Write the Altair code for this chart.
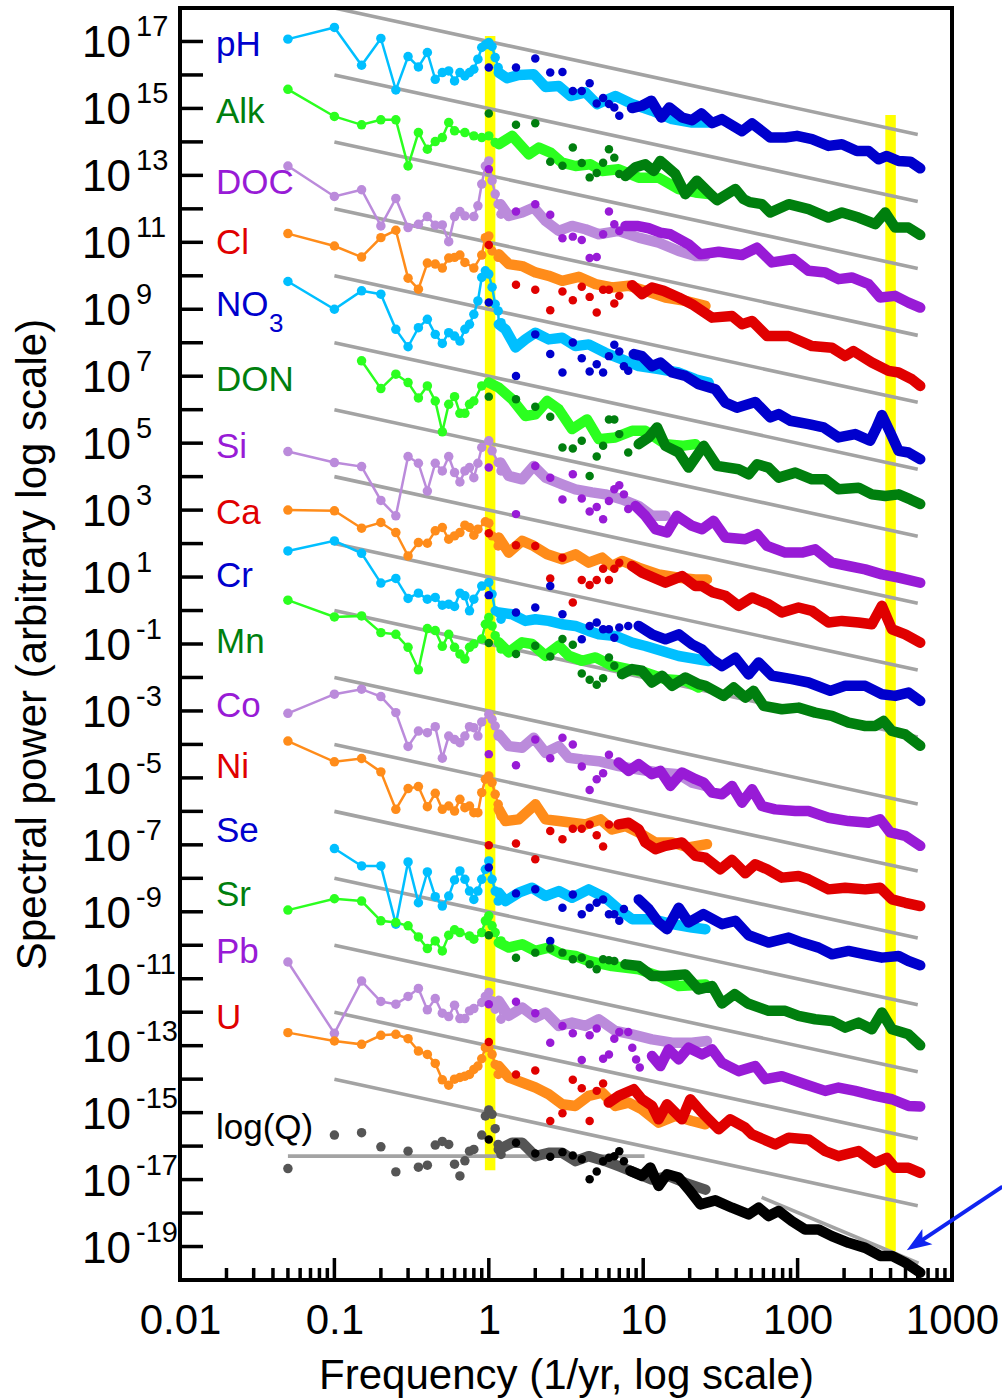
import altair as alt
import pandas as pd

FONT = "Liberation Sans"

NAMES = ["pH", "Alk", "DOC", "Cl", "NO3", "DON", "Si", "Ca", "Cr", "Mn", "Co", "Ni", "Se", "Sr", "Pb", "U"]
LIGHT_CYCLE = ["#00bfff", "#2bff1f", "#bb8bdb", "#ff8c1a"]
DARK_CYCLE = ["#0000cd", "#007f0e", "#981bd6", "#e00000"]
Q_LIGHT = "#555555"
Q_DARK = "#000000"

# frequency grids (1/yr)
LOW_F = [0.05, 0.1, 0.15, 0.2, 0.25, 0.3, 0.35, 0.4, 0.45, 0.5, 0.55, 0.6, 0.65, 0.7, 0.75, 0.8,
         0.85, 0.9, 0.95, 1.0, 1.05, 1.1, 1.15, 1.2]
DARK_F = [1.0, 1.5, 2.0, 2.5, 3.0, 3.5, 4.0, 4.5, 5.0, 5.5, 6.0, 6.5, 7.0, 7.5, 8.0, 8.5, 9.0, 9.5]

# values are log10(spectral power); bands/lines are (log10 f, log10 power)
pH_dots = [17.07, 17.42, 16.29, 17.09, 15.55, 16.55, 16.24, 16.67, 15.87, 16.07, 16.12, 15.82, 16.07, 15.97, 16.07, 16.17, 16.47, 16.82, 16.9, 16.97, 16.85, 16.52, 16.22]
pH_band = [(0.065, 16.07), (0.118, 15.9), (0.194, 16.0), (0.291, 16.02), (0.367, 15.64), (0.453, 15.67), (0.529, 15.37), (0.626, 15.48), (0.701, 15.13), (0.82, 15.37), (0.928, 15.13), (1.057, 14.93), (1.187, 14.68), (1.316, 14.58), (1.424, 14.58)]
pH_ddots = [16.22, 16.22, 16.49, 16.07, 16.09, 15.52, 15.52, 15.75, 15.15, 15.31, 15.13, 15.03, 14.78]
pH_dark = [(0.928, 15.01), (0.992, 15.08), (1.053, 15.23), (1.118, 14.73), (1.169, 15.03), (1.251, 14.73), (1.316, 14.65), (1.377, 14.85), (1.446, 14.56), (1.51, 14.68), (1.64, 14.32), (1.705, 14.55), (1.823, 14.13), (1.92, 14.13), (1.996, 14.18), (2.093, 14.08), (2.2, 13.88), (2.287, 13.93), (2.384, 13.73), (2.46, 13.73), (2.524, 13.48), (2.578, 13.58), (2.654, 13.43), (2.73, 13.41), (2.794, 13.21)]

Alk_dots = [15.57, 14.76, 14.51, 14.66, 14.66, 13.28, 14.28, 13.78, 14.01, 14.13, 14.58, 14.33, None, 14.28, None, 14.18, None, 14.13, None, 14.18, None, 13.98]
Alk_band = [(0.065, 13.93), (0.151, 14.18), (0.259, 13.63), (0.324, 13.83), (0.399, 13.68), (0.475, 13.38), (0.561, 13.28), (0.658, 13.33), (0.734, 13.13), (0.841, 13.18), (0.971, 12.93), (1.1, 12.93), (1.23, 12.59), (1.338, 12.49), (1.424, 12.44)]
Alk_ddots = [14.85, 14.51, 14.56, 13.41, 13.29, 13.83, 13.37, 12.94, 13.07, 13.38, 13.78, 13.53, 13.04]
Alk_dark = [(0.885, 12.98), (0.95, 13.24), (1.014, 13.33), (1.068, 13.13), (1.111, 13.43), (1.208, 13.04), (1.273, 12.44), (1.348, 12.84), (1.446, 12.39), (1.478, 12.26), (1.597, 12.59), (1.65, 12.29), (1.69, 12.2), (1.769, 12.14), (1.823, 11.89), (1.942, 12.14), (2.071, 11.99), (2.2, 11.74), (2.287, 11.89), (2.395, 11.74), (2.503, 11.54), (2.567, 11.89), (2.632, 11.44), (2.718, 11.44), (2.794, 11.22)]

DOC_dots = [13.28, 12.37, 12.57, 11.49, 12.31, 11.44, 11.54, 11.77, 11.51, 11.52, 11.02, 11.77, 11.92, 11.79, None, 11.77, 12.09, 12.74, 13.28, 13.43, 12.84, 12.44, 12.14, 11.84]
DOC_band = [(0.076, 12.14), (0.129, 11.79), (0.216, 11.89), (0.291, 12.04), (0.367, 11.64), (0.453, 11.34), (0.539, 11.49), (0.626, 11.39), (0.712, 11.24), (0.841, 11.34), (0.971, 11.14), (1.1, 10.99), (1.23, 10.74), (1.338, 10.59), (1.403, 10.59)]
DOC_ddots = [13.18, 11.92, 12.14, 11.82, 11.12, 11.17, 11.07, 10.53, 10.56, 11.24, 11.92, 11.54, 11.34]
DOC_dark = [(0.885, 11.49), (0.96, 11.49), (1.036, 11.42), (1.111, 11.29), (1.176, 11.24), (1.294, 10.94), (1.37, 10.64), (1.489, 10.72), (1.64, 10.62), (1.737, 10.84), (1.834, 10.4), (1.974, 10.5), (2.071, 10.15), (2.179, 10.1), (2.265, 9.9), (2.351, 9.95), (2.46, 9.75), (2.535, 9.35), (2.632, 9.4), (2.718, 9.2), (2.794, 9.05)]

Cl_dots = [11.26, 10.89, 10.56, 11.14, 11.36, 9.93, 9.6, 10.38, 10.35, 10.23, 10.53, 10.55, 10.62, 10.4, None, 10.23, None, 10.62, 11.14, 11.19, 10.74, None, 10.55]
Cl_band = [(0.065, 10.64), (0.129, 10.35), (0.216, 10.29), (0.302, 10.1), (0.388, 10.0), (0.475, 9.85), (0.583, 9.97), (0.691, 9.75), (0.798, 9.65), (0.906, 9.7), (1.014, 9.55), (1.144, 9.35), (1.273, 9.25), (1.403, 9.1)]
Cl_ddots = [10.92, 9.73, 9.58, 8.97, 9.53, 9.27, 9.67, 9.37, 8.9, 9.58, 9.58, 9.17, 9.4]
Cl_dark = [(0.928, 9.72), (0.992, 9.45), (1.057, 9.65), (1.133, 9.55), (1.23, 9.35), (1.316, 9.15), (1.446, 8.75), (1.575, 8.8), (1.64, 8.55), (1.705, 8.65), (1.802, 8.2), (1.942, 8.2), (2.093, 7.9), (2.222, 7.85), (2.308, 7.6), (2.362, 7.75), (2.481, 7.41), (2.589, 7.16), (2.654, 7.11), (2.74, 6.91), (2.794, 6.71)]

NO3_dots = [9.83, 9.0, 9.55, 9.45, 8.4, 7.88, 8.45, 8.7, 8.25, 7.98, 8.3, 8.2, 8.05, 8.4, 8.55, 8.85, 9.25, 9.95, 10.15, 10.05, 9.66, 9.15, 8.95, 8.6]
NO3_band = [(0.065, 8.55), (0.108, 8.4), (0.173, 7.86), (0.237, 8.1), (0.302, 8.3), (0.388, 8.1), (0.475, 8.15), (0.561, 7.9), (0.647, 7.95), (0.755, 7.7), (0.863, 7.5), (0.971, 7.3), (1.1, 7.21), (1.23, 7.11), (1.338, 6.91), (1.424, 6.81)]
NO3_ddots = [9.2, 7.01, 8.25, 7.66, 7.11, 8.01, 7.54, 7.14, 7.36, 7.11, 7.6, 7.94, 7.74, 7.3, 7.16]
NO3_dark = [(0.939, 7.66), (0.992, 7.6), (1.057, 7.3), (1.111, 7.41), (1.187, 7.11), (1.273, 7.01), (1.359, 6.76), (1.467, 6.61), (1.532, 6.21), (1.607, 6.06), (1.726, 6.23), (1.823, 5.77), (1.877, 5.87), (1.952, 5.67), (2.071, 5.57), (2.168, 5.47), (2.265, 5.17), (2.373, 5.27), (2.47, 5.07), (2.51, 5.45), (2.546, 5.84), (2.6, 5.32), (2.654, 4.77), (2.718, 4.72), (2.794, 4.52)]

DON_dots = [None, None, 7.46, 6.63, 7.06, 6.81, 6.35, 6.71, 6.26, 5.34, 6.16, 6.39, 5.89, 5.89, 6.16, 6.26, None, 6.71, None, 6.81, None, 6.71]
DON_band = [(0.0, 6.81), (0.065, 6.66), (0.151, 6.31), (0.237, 5.81), (0.302, 5.86), (0.378, 6.26), (0.453, 6.01), (0.539, 5.42), (0.636, 5.71), (0.712, 5.12), (0.82, 5.17), (0.928, 5.37), (1.014, 5.37), (1.144, 4.97), (1.251, 4.92), (1.338, 4.97)]
DON_ddots = [6.39, 6.31, 6.09, 5.79, 4.87, 4.84, 5.07, 4.02, 4.6, 4.92, 5.71, 5.71, 5.27, None, 4.72]
DON_dark = [(0.971, 4.97), (1.036, 5.17), (1.09, 5.47), (1.144, 4.92), (1.23, 4.72), (1.294, 4.27), (1.392, 4.92), (1.478, 4.32), (1.618, 4.22), (1.683, 4.07), (1.737, 4.37), (1.812, 4.27), (1.877, 3.97), (1.985, 4.12), (2.093, 3.92), (2.179, 3.92), (2.265, 3.62), (2.395, 3.67), (2.481, 3.47), (2.567, 3.42), (2.654, 3.47), (2.73, 3.32), (2.794, 3.18)]

Si_dots = [4.75, 4.42, 4.3, 3.29, 2.83, 4.6, 4.4, 3.57, 4.4, 4.17, 4.6, 4.12, 3.84, 4.17, 4.27, 3.97, 4.4, 4.87, None, 5.07, 4.77, None, 4.42, 4.17]
Si_band = [(0.076, 4.42), (0.129, 4.02), (0.216, 3.92), (0.291, 4.32), (0.367, 3.97), (0.475, 3.77), (0.561, 3.62), (0.669, 3.53), (0.755, 3.47), (0.863, 3.32), (0.971, 3.12), (1.057, 2.83), (1.144, 2.83)]
Si_ddots = [4.27, 2.88, 4.32, 3.97, 3.32, 4.07, 3.35, 2.96, 3.09, 2.73, 3.27, 3.62, 3.74, 3.47, 3.03]
Si_dark = [(0.95, 3.12), (1.014, 2.83), (1.079, 2.43), (1.154, 2.33), (1.219, 2.83), (1.316, 2.53), (1.381, 2.43), (1.456, 2.68), (1.532, 2.18), (1.661, 2.13), (1.737, 2.28), (1.802, 1.93), (1.92, 1.73), (2.028, 1.73), (2.114, 1.83), (2.222, 1.43), (2.33, 1.33), (2.438, 1.23), (2.546, 1.08), (2.654, 0.98), (2.794, 0.83)]

Ca_dots = [3.0, 2.98, 2.46, 2.63, 2.33, 1.63, 2.03, 2.01, 2.38, 2.48, 2.13, 2.23, 2.33, 2.55, 2.48, 2.25, 2.43, None, 2.65, 2.61, 2.23, None, 1.93]
Ca_band = [(0.065, 2.18), (0.129, 1.73), (0.216, 2.08), (0.291, 1.93), (0.378, 1.68), (0.475, 1.53), (0.561, 1.68), (0.647, 1.43), (0.734, 1.58), (0.798, 1.33), (0.863, 1.48), (0.971, 1.28), (1.1, 1.08), (1.23, 0.98), (1.338, 0.93), (1.413, 0.93)]
Ca_ddots = [2.31, 1.95, 1.93, 0.96, 1.58, 0.24, 0.91, 0.76, 0.91, 1.25, 0.91, 1.25, 1.43]
Ca_dark = [(0.928, 1.33), (0.992, 1.13), (1.144, 0.83), (1.251, 1.03), (1.338, 0.73), (1.381, 0.73), (1.446, 0.55), (1.532, 0.44), (1.618, 0.14), (1.705, 0.39), (1.812, 0.19), (1.898, -0.06), (2.006, 0.09), (2.093, -0.01), (2.2, -0.36), (2.287, -0.31), (2.395, -0.36), (2.481, -0.41), (2.546, 0.14), (2.611, -0.56), (2.697, -0.71), (2.794, -0.96)]

Cr_dots = [1.78, 2.08, 1.71, 0.82, 0.96, 0.36, 0.52, 0.34, 0.39, 0.16, 0.19, 0.12, 0.52, 0.44, -0.01, 0.34, None, 0.73, None, 0.84, 0.49, -0.01, None, -0.26]
Cr_band = [(0.065, -0.06), (0.151, -0.11), (0.237, -0.31), (0.302, -0.26), (0.388, -0.31), (0.475, -0.41), (0.561, -0.46), (0.647, -0.61), (0.712, -0.71), (0.82, -0.76), (0.928, -0.96), (1.014, -1.06), (1.23, -1.36), (1.424, -1.51)]
Cr_ddots = [0.46, -0.06, 0.09, 0.73, -0.11, None, -0.86, -0.46, -0.36, -0.56, -0.56, -0.81, -0.51, None, -0.46]
Cr_dark = [(0.971, -0.46), (1.057, -0.71), (1.144, -0.86), (1.23, -0.71), (1.316, -1.01), (1.381, -1.16), (1.446, -1.46), (1.51, -1.66), (1.597, -1.41), (1.683, -1.91), (1.748, -1.55), (1.834, -1.95), (1.963, -2.05), (2.071, -2.15), (2.212, -2.4), (2.308, -2.25), (2.438, -2.25), (2.546, -2.5), (2.632, -2.55), (2.718, -2.45), (2.794, -2.7)]

Mn_dots = [0.31, -0.19, -0.16, -0.66, -0.71, -1.1, -1.77, -0.54, -0.6, -1.07, -0.71, -1.1, -1.3, -1.45, -1.1, -1.0, None, -0.85, -0.41, -0.21, -0.46, -0.75, None, -1.15]
Mn_band = [(0.065, -0.95), (0.129, -1.25), (0.216, -0.95), (0.28, -1.0), (0.367, -1.35), (0.453, -1.05), (0.518, -1.35), (0.604, -1.5), (0.691, -1.4), (0.798, -1.65), (0.906, -1.75), (1.014, -1.85), (1.144, -2.05), (1.273, -2.1), (1.359, -2.3)]
Mn_ddots = [-0.97, -1.3, -1.05, -1.37, -0.85, -1.02, -1.88, -2.07, -2.22, -2.02, -1.4, -1.65]
Mn_dark = [(0.863, -1.9), (0.928, -1.75), (0.992, -1.8), (1.057, -2.15), (1.122, -1.95), (1.187, -2.25), (1.273, -2.0), (1.359, -2.2), (1.403, -2.25), (1.521, -2.55), (1.586, -2.3), (1.661, -2.6), (1.715, -2.4), (1.78, -2.85), (1.898, -2.95), (2.006, -2.9), (2.114, -3.05), (2.222, -3.15), (2.33, -3.35), (2.438, -3.45), (2.503, -3.45), (2.557, -3.3), (2.611, -3.6), (2.697, -3.7), (2.794, -4.04)]

Co_dots = [-3.07, -2.5, -2.35, -2.57, -3.05, -4.06, -3.6, -3.65, -3.47, -4.41, -3.75, -3.85, -3.95, -3.75, -3.47, -3.5, -3.75, -3.33, None, -3.1, -3.25, -3.45, -3.75]
Co_band = [(0.065, -3.7), (0.129, -4.05), (0.216, -4.1), (0.291, -3.8), (0.367, -4.25), (0.453, -4.05), (0.518, -4.4), (0.604, -4.45), (0.712, -4.5), (0.841, -4.65), (0.971, -4.75), (1.1, -4.84), (1.23, -4.89), (1.316, -5.14), (1.403, -5.24)]
Co_ddots = [-4.29, -4.62, -3.85, -4.41, -3.8, -4.0, -4.66, -5.36, -5.04, -4.86, -4.31]
Co_dark = [(0.841, -4.54), (0.906, -4.79), (0.971, -4.59), (1.057, -4.89), (1.111, -4.79), (1.176, -5.24), (1.251, -4.84), (1.338, -5.04), (1.392, -5.14), (1.446, -5.44), (1.51, -5.49), (1.575, -5.24), (1.64, -5.74), (1.705, -5.34), (1.769, -5.84), (1.855, -5.94), (1.985, -5.99), (2.071, -5.99), (2.2, -6.19), (2.33, -6.29), (2.46, -6.34), (2.535, -6.24), (2.6, -6.63), (2.697, -6.73), (2.794, -7.03)]

Ni_dots = [-3.9, -4.52, -4.42, -4.82, -5.94, -5.32, -5.26, -5.86, -5.46, -5.94, -5.84, -5.99, -5.64, -5.89, -5.84, -6.04, -6.04, -5.44, -5.04, -4.94, -5.14, -5.49, -5.79, -6.14]
Ni_band = [(0.065, -5.94), (0.108, -6.29), (0.194, -6.24), (0.302, -5.79), (0.367, -6.24), (0.453, -6.29), (0.539, -6.34), (0.626, -6.39), (0.723, -6.24), (0.798, -6.54), (0.885, -6.44), (0.971, -6.63), (1.079, -6.93), (1.187, -6.93), (1.294, -7.08), (1.413, -6.98)]
Ni_ddots = [-7.01, -6.96, -7.43, -6.59, -6.83, -6.52, -6.52, -6.39, -6.71, -7.05, -6.39]
Ni_dark = [(0.841, -6.39), (0.906, -6.34), (0.971, -6.54), (1.014, -6.93), (1.079, -7.13), (1.144, -7.03), (1.251, -6.93), (1.338, -7.33), (1.403, -7.38), (1.5, -7.73), (1.575, -7.45), (1.661, -7.85), (1.726, -7.58), (1.802, -7.73), (1.898, -7.98), (2.006, -7.93), (2.071, -8.03), (2.2, -8.33), (2.308, -8.28), (2.438, -8.33), (2.535, -8.28), (2.611, -8.63), (2.697, -8.73), (2.794, -8.83)]

Se_dots = [None, -7.11, -7.63, -7.63, -9.37, -7.51, -8.73, -7.81, -8.55, -8.83, -8.53, -8.05, -7.78, -8.03, -8.38, -8.63, -8.38, -8.03, -7.73, -7.48, -8.03, -8.38, -8.68]
Se_band = [(0.065, -8.43), (0.108, -8.68), (0.194, -8.43), (0.28, -8.28), (0.367, -8.53), (0.453, -8.38), (0.539, -8.58), (0.647, -8.33), (0.755, -8.58), (0.841, -8.92), (0.928, -9.22), (1.057, -9.22), (1.187, -9.37), (1.316, -9.47), (1.403, -9.52)]
Se_ddots = [-7.68, -8.45, -8.33, -9.87, -8.88, -8.48, -9.07, -8.88, -8.73, -8.63, -9.07, -9.07, -9.27, -8.92]
Se_dark = [(0.971, -8.63), (1.036, -8.92), (1.1, -9.32), (1.154, -9.52), (1.23, -8.88), (1.294, -9.32), (1.39, -9.07), (1.51, -9.37), (1.597, -9.27), (1.683, -9.7), (1.812, -9.92), (1.942, -9.77), (2.028, -9.92), (2.136, -10.07), (2.222, -10.27), (2.33, -10.17), (2.438, -10.27), (2.546, -10.37), (2.654, -10.32), (2.718, -10.47), (2.794, -10.6)]

Sr_dots = [-8.95, -8.61, -8.68, -9.27, -9.32, -9.42, -9.75, -10.1, -9.87, -10.17, -9.7, -9.54, -9.62, None, -9.72, -9.82, None, -9.62, -9.27, -9.12, -9.42, -9.62, None, -9.87]
Sr_band = [(0.065, -9.92), (0.129, -10.07), (0.216, -9.97), (0.302, -10.17), (0.388, -10.07), (0.475, -10.27), (0.561, -10.32), (0.647, -10.47), (0.798, -10.62), (0.971, -10.72), (1.1, -10.92), (1.23, -11.22), (1.403, -11.17)]
Sr_ddots = [-9.7, -10.37, -10.22, -10.1, -10.22, -10.42, -10.37, -10.57, -10.72, -10.42, -10.45, -10.47]
Sr_dark = [(0.885, -10.57), (0.971, -10.62), (1.057, -10.92), (1.144, -10.92), (1.273, -10.87), (1.359, -11.32), (1.446, -11.22), (1.51, -11.74), (1.592, -11.46), (1.678, -11.74), (1.812, -11.96), (1.92, -11.96), (2.006, -12.11), (2.114, -12.21), (2.222, -12.26), (2.308, -12.46), (2.395, -12.31), (2.481, -12.51), (2.546, -12.01), (2.611, -12.51), (2.718, -12.66), (2.794, -12.99)]

Pb_dots = [-10.5, -12.63, -11.07, -11.68, -11.76, -11.53, -11.29, -11.93, -11.59, -12.03, -12.13, -11.79, -12.19, -12.19, -11.96, -11.89, None, -11.71, -11.53, -11.41, -11.66, -11.91, None, -12.21]
Pb_band = [(0.065, -11.66), (0.129, -12.11), (0.216, -11.86), (0.302, -12.16), (0.367, -12.01), (0.453, -12.41), (0.539, -12.31), (0.626, -12.41), (0.712, -12.21), (0.82, -12.56), (0.928, -12.66), (1.057, -12.81), (1.187, -12.91), (1.316, -12.91), (1.413, -12.86)]
Pb_ddots = [-11.76, -11.69, -12.03, -12.91, -12.41, -12.63, -13.43, -12.69, -12.49, -13.39, -13.26, -12.79, -12.59, None, -12.59, -13.06, -13.41, -13.65]
Pb_dark = [(1.057, -13.31), (1.111, -13.61), (1.165, -13.11), (1.23, -13.41), (1.294, -13.06), (1.381, -13.26), (1.446, -13.11), (1.51, -13.51), (1.553, -13.61), (1.618, -13.76), (1.726, -13.61), (1.791, -14.0), (1.898, -13.91), (2.049, -14.15), (2.179, -14.35), (2.265, -14.25), (2.373, -14.35), (2.503, -14.5), (2.611, -14.6), (2.718, -14.8), (2.794, -14.82)]

U_dots = [-12.61, -12.86, -12.96, -12.69, -12.66, -12.79, -13.16, -13.26, -13.53, -14.02, -14.18, -14.0, -13.95, -13.91, -13.86, -13.71, -13.61, -13.39, -13.06, -13.06, -13.26, -13.56, -13.86]
U_band = [(0.065, -13.61), (0.129, -13.95), (0.216, -14.1), (0.302, -14.25), (0.388, -14.45), (0.475, -14.75), (0.561, -14.8), (0.647, -14.5), (0.734, -14.4), (0.82, -14.8), (0.906, -14.7), (0.992, -14.9), (1.1, -15.3), (1.208, -15.1), (1.316, -15.25), (1.403, -15.35)]
U_ddots = [-12.89, -13.86, -13.74, -15.25, -15.02, -14.02, -14.27, -15.25, -14.35, -14.13]
U_dark = [(0.777, -14.7), (0.841, -14.5), (0.939, -14.3), (0.992, -14.6), (1.057, -14.8), (1.1, -15.2), (1.154, -14.75), (1.251, -15.2), (1.305, -14.6), (1.381, -15.0), (1.489, -15.5), (1.564, -15.2), (1.661, -15.45), (1.705, -15.65), (1.855, -15.95), (1.942, -15.75), (2.071, -15.8), (2.179, -16.15), (2.265, -16.3), (2.395, -16.15), (2.503, -16.5), (2.578, -16.35), (2.632, -16.65), (2.718, -16.65), (2.794, -16.8)]

Q_dots = [-16.67, -15.67, -15.6, -16.02, -16.77, -16.15, -16.63, -16.57, -15.97, -15.86, -15.95, -16.54, -16.89, -16.44, -16.15, -16.1, None, -15.67, -15.1, -14.92, -15.05, -15.48, -15.95, -16.25]
Q_band = [(0.065, -16.1), (0.151, -15.9), (0.216, -15.9), (0.302, -16.3), (0.388, -16.2), (0.475, -16.2), (0.561, -16.45), (0.647, -16.3), (0.755, -16.45), (0.841, -16.6), (0.95, -16.8), (1.057, -17.0), (1.165, -16.9), (1.273, -17.1), (1.403, -17.3)]
Q_ddots = [-15.8, -15.9, -16.22, -16.32, -16.18, -16.28, -16.39, -16.99, -16.76, -16.45, -16.35, -16.3, -16.15, -16.45]
Q_dark = [(0.917, -16.74), (0.992, -16.89), (1.046, -16.64), (1.1, -17.19), (1.154, -16.84), (1.23, -16.94), (1.294, -17.29), (1.37, -17.74), (1.467, -17.62), (1.575, -17.84), (1.683, -18.04), (1.748, -17.84), (1.812, -18.09), (1.877, -17.94), (1.963, -18.24), (2.049, -18.49), (2.136, -18.49), (2.222, -18.69), (2.33, -18.89), (2.438, -19.04), (2.535, -19.28), (2.611, -19.28), (2.697, -19.48), (2.794, -19.78)]

# gray reference lines (slope -1), log10 power at f=0.1 and f=600
GRAY_F = [0.1, 600.0]
GRAY_START = [18, 16, 14, 12, 10, 8, 6, 4, 2, 0, -2, -4, -6, -8, -10, -12, -14]
GRAY_END = [14.22, 12.22, 10.22, 8.22, 6.22, 4.22, 2.22, 0.22, -1.78, -3.78, -5.78, -7.78, -9.78, -11.78, -13.78, -15.78, -17.78]
# log(Q) reference lines
QFLAT = [(0.05, -16.3), (10.2, -16.3)]
QSTEEP = [(58.5, -17.53), (607.0, -19.5)]
# yellow bands: frequency, log10 power bottom, top
YELLOW = [(1.02, -16.72, 17.16), (400.0, -19.14, 14.8)]

# series labels (baseline position in log10 power)
LABEL_TEXT = ["pH", "Alk", "DOC", "Cl", "NO", "DON", "Si", "Ca", "Cr", "Mn", "Co", "Ni", "Se", "Sr", "Pb", "U", "log(Q)"]
LABEL_LP = [16.57, 14.56, 12.44, 10.64, 8.8, 6.56, 4.57, 2.59, 0.69, -1.26, -3.17, -4.99, -6.93, -8.83, -10.52, -12.49, -15.8]

Y_LABEL_EXP = [17, 15, 13, 11, 9, 7, 5, 3, 1, -1, -3, -5, -7, -9, -11, -13, -15, -17, -19]
Y_TICK_EXP = list(range(-19, 18))
X_MAJOR = [0.01, 0.1, 1, 10, 100, 1000]
X_MINOR_MULT = [2, 3, 4, 5, 6, 7, 8, 9]
X_LABELS = [0.01, 0.1, 1, 10, 100, 1000]

ARROW_COLOR = "#1024f0"
ARROW = [(2123.0, -17.21, 599.0, -18.9)]

SERIES = {
    "pH": (pH_dots, pH_band, pH_ddots, pH_dark),
    "Alk": (Alk_dots, Alk_band, Alk_ddots, Alk_dark),
    "DOC": (DOC_dots, DOC_band, DOC_ddots, DOC_dark),
    "Cl": (Cl_dots, Cl_band, Cl_ddots, Cl_dark),
    "NO3": (NO3_dots, NO3_band, NO3_ddots, NO3_dark),
    "DON": (DON_dots, DON_band, DON_ddots, DON_dark),
    "Si": (Si_dots, Si_band, Si_ddots, Si_dark),
    "Ca": (Ca_dots, Ca_band, Ca_ddots, Ca_dark),
    "Cr": (Cr_dots, Cr_band, Cr_ddots, Cr_dark),
    "Mn": (Mn_dots, Mn_band, Mn_ddots, Mn_dark),
    "Co": (Co_dots, Co_band, Co_ddots, Co_dark),
    "Ni": (Ni_dots, Ni_band, Ni_ddots, Ni_dark),
    "Se": (Se_dots, Se_band, Se_ddots, Se_dark),
    "Sr": (Sr_dots, Sr_band, Sr_ddots, Sr_dark),
    "Pb": (Pb_dots, Pb_band, Pb_ddots, Pb_dark),
    "U": (U_dots, U_band, U_ddots, U_dark),
}

# ---------- build tables ----------
thin, dots, band, ddots, dark = [], [], [], [], []


def add_series(name, sd, lc, dc, with_thin=True):
    d, b, dd, dk = sd
    for f, v in zip(LOW_F, d):
        if v is not None:
            dots.append({"s": name, "f": f, "p": 10.0 ** v, "c": lc})
            if with_thin:
                thin.append({"s": name, "f": f, "p": 10.0 ** v, "c": lc})
    for lf, v in b:
        band.append({"s": name, "f": 10.0 ** lf, "p": 10.0 ** v, "c": lc})
        if with_thin:
            thin.append({"s": name, "f": 10.0 ** lf, "p": 10.0 ** v, "c": lc})
    for f, v in zip(DARK_F, dd):
        if v is not None:
            ddots.append({"s": name, "f": f, "p": 10.0 ** v, "c": dc})
    for lf, v in dk:
        dark.append({"s": name, "f": 10.0 ** lf, "p": 10.0 ** v, "c": dc})


for i, n in enumerate(NAMES):
    add_series(n, SERIES[n], LIGHT_CYCLE[i % 4], DARK_CYCLE[i % 4])
add_series("Q", (Q_dots, Q_band, Q_ddots, Q_dark), Q_LIGHT, Q_DARK, with_thin=False)

thin_df = pd.DataFrame(thin)
dots_df = pd.DataFrame(dots)
band_df = pd.DataFrame(band)
ddots_df = pd.DataFrame(ddots)
dark_df = pd.DataFrame(dark)

gray_rows = []
for k, (a, b) in enumerate(zip(GRAY_START, GRAY_END)):
    gray_rows.append({"g": f"g{k}", "f": GRAY_F[0], "p": 10.0 ** a})
    gray_rows.append({"g": f"g{k}", "f": GRAY_F[1], "p": 10.0 ** b})
for f, v in QFLAT:
    gray_rows.append({"g": "qflat", "f": f, "p": 10.0 ** v})
for f, v in QSTEEP:
    gray_rows.append({"g": "qsteep", "f": f, "p": 10.0 ** v})
gray_df = pd.DataFrame(gray_rows)

yellow_df = pd.DataFrame([{"f": f, "p": 10.0 ** lo, "p2": 10.0 ** hi} for f, lo, hi in YELLOW])

label_colors = [DARK_CYCLE[i % 4] for i in range(16)] + ["#000000"]
labels_df = pd.DataFrame({"t": LABEL_TEXT, "p": [10.0 ** v for v in LABEL_LP], "c": label_colors})
sub_df = pd.DataFrame({"t": ["3"], "p": [10.0 ** 8.31], "c": [DARK_CYCLE[0]]})

ylab_df = pd.DataFrame({"p": [10.0 ** e for e in Y_LABEL_EXP], "base": ["10"] * len(Y_LABEL_EXP),
                        "exp": [str(e) for e in Y_LABEL_EXP]})
ytick_df = pd.DataFrame({"p": [10.0 ** e for e in Y_TICK_EXP]})
xmaj_df = pd.DataFrame({"f": X_MAJOR})
xmin_df = pd.DataFrame({"f": [m * d for d in X_MAJOR[:-1] for m in X_MINOR_MULT]})
arrow_df = pd.DataFrame([{"f": a, "p": 10.0 ** b, "f2": c, "p2": 10.0 ** d} for a, b, c, d in ARROW])
head_df = pd.DataFrame([{"f": ARROW[0][2], "p": 10.0 ** ARROW[0][3]}])
frame_df = pd.DataFrame({"k": [0]})

# ---------- encodings ----------
xs = alt.Scale(type="log", domain=[0.01, 1000], nice=False)
ys = alt.Scale(type="log", domain=[1e-20, 1e18], nice=False)
xaxis = alt.Axis(values=X_LABELS, format="~g", labelFontSize=42, labelPadding=20, ticks=False, tickSize=0,
                 domain=False, grid=False, labelFlush=False, labelOverlap=False, labelColor="black",
                 labelFont=FONT, title="Frequency (1/yr, log scale)", titleFont=FONT, titleFontSize=42,
                 titleFontWeight="normal", titleColor="black", titlePadding=14)
yaxis = alt.Axis(labels=False, ticks=False, tickSize=0, domain=False, grid=False,
                 title="Spectral power (arbitrary log scale)", titleFont=FONT, titleFontSize=42,
                 titleFontWeight="normal", titleColor="black", titlePadding=126)
X = alt.X("f:Q", scale=xs, axis=xaxis)
Y = alt.Y("p:Q", scale=ys, axis=yaxis)
C = alt.Color("c:N", scale=None, legend=None)

yellow = alt.Chart(yellow_df).mark_rule(color="#ffff00", strokeWidth=10.5).encode(x=X, y=Y, y2="p2:Q")
gray = alt.Chart(gray_df).mark_line(color="#a3a3a3", strokeWidth=3.6).encode(x=X, y=Y, detail="g:N")
thin_l = alt.Chart(thin_df).mark_line(strokeWidth=2.5).encode(x=X, y=Y, color=C, detail="s:N")
dots_l = alt.Chart(dots_df).mark_circle(size=90, opacity=1).encode(x=X, y=Y, color=C)
band_l = alt.Chart(band_df).mark_line(strokeWidth=10.5, strokeCap="round", strokeJoin="round").encode(
    x=X, y=Y, color=C, detail="s:N")
ddots_l = alt.Chart(ddots_df).mark_circle(size=72, opacity=1).encode(x=X, y=Y, color=C)
dark_l = alt.Chart(dark_df).mark_line(strokeWidth=10.5, strokeCap="round", strokeJoin="round").encode(
    x=X, y=Y, color=C, detail="s:N")

frame = alt.Chart(frame_df).mark_rect(fillOpacity=0, stroke="black", strokeWidth=4).encode(
    x=alt.value(0), x2=alt.value(772), y=alt.value(0), y2=alt.value(1272))
yticks = alt.Chart(ytick_df).mark_rule(color="black", strokeWidth=3.5).encode(
    y=Y, x=alt.value(0), x2=alt.value(23))
xmaj = alt.Chart(xmaj_df).mark_rule(color="black", strokeWidth=3.5).encode(
    x=X, y=alt.value(1272), y2=alt.value(1250))
xmin = alt.Chart(xmin_df).mark_rule(color="black", strokeWidth=3.5).encode(
    x=X, y=alt.value(1272), y2=alt.value(1260))

ylab_base = alt.Chart(ylab_df).mark_text(font=FONT, fontSize=44, align="left", baseline="alphabetic",
                                         dy=16, color="black").encode(y=Y, x=alt.value(-98), text="base:N")
ylab_exp = alt.Chart(ylab_df).mark_text(font=FONT, fontSize=29, align="left", baseline="alphabetic",
                                        dy=-5, color="black").encode(y=Y, x=alt.value(-44), text="exp:N")

names_l = alt.Chart(labels_df).mark_text(font=FONT, fontSize=35, align="left", baseline="alphabetic").encode(
    y=Y, x=alt.value(36), text="t:N", color=C)
sub_l = alt.Chart(sub_df).mark_text(font=FONT, fontSize=26, align="left", baseline="alphabetic").encode(
    y=Y, x=alt.value(89), text="t:N", color=C)

arrow_l = alt.Chart(arrow_df).mark_rule(color=ARROW_COLOR, strokeWidth=4).encode(
    x=X, y=Y, x2="f2:Q", y2="p2:Q")
head_l = alt.Chart(head_df).mark_point(shape="M0,-1L0.7,0.9L0,0.45L-0.7,0.9Z", size=676, angle=236.4,
                                       filled=True, opacity=1, color=ARROW_COLOR, strokeWidth=0).encode(x=X, y=Y)

chart = alt.layer(
    yellow, gray, thin_l, dots_l, band_l, ddots_l, dark_l,
    frame, yticks, xmaj, xmin, ylab_base, ylab_exp, names_l, sub_l, arrow_l, head_l
).properties(
    width=772, height=1272,
    padding={"left": 180, "top": 8, "right": 50, "bottom": 120},
    autosize=alt.AutoSizeParams(type="none"),
).configure(font=FONT).configure_view(stroke=None)

chart.save("out.html", embed_options={"renderer": "svg", "actions": False})
